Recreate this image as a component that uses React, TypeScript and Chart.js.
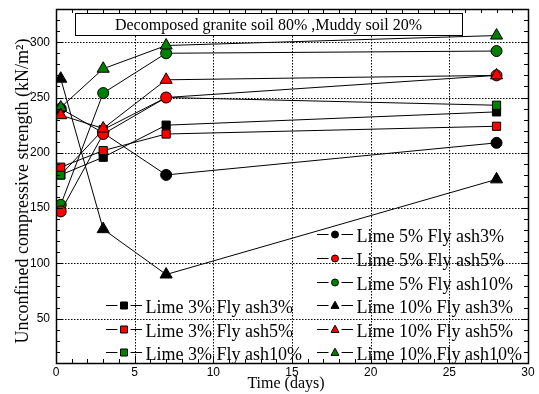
import React, { useEffect, useRef } from "react";
import { Chart, registerables } from "chart.js";

Chart.register(...registerables);

// ---- data ----
const days = [0.3, 3, 7, 28];
const lime3Fly3 = [180, 196, 225, 237];
const lime3Fly5 = [187, 202, 217, 224];
const lime3Fly10 = [180, 221, 250, 243];
const lime5Fly3 = [240, 218, 180, 209];
const lime5Fly5 = [147, 217, 250, 270];
const lime5Fly10 = [153, 254, 290, 292];
const lime10Fly3 = [267, 131, 90, 176];
const lime10Fly5 = [234, 222, 266, 270];
const lime10Fly10 = [241, 276, 297, 306];

const seriesLabels = [
  "Lime 3% Fly ash3%",
  "Lime 3% Fly ash5%",
  "Lime 3% Fly ash10%",
  "Lime 5% Fly ash3%",
  "Lime 5% Fly ash5%",
  "Lime 5% Fly ash10%",
  "Lime 10% Fly ash3%",
  "Lime 10% Fly ash5%",
  "Lime 10% Fly ash10%",
];

const yTickLabels = [50, 100, 150, 200, 250, 300];
const xTickLabels = [0, 5, 10, 15, 20, 25, 30];
const titleText = "Decomposed granite soil 80% ,Muddy soil 20%";
const xTitle = "Time (days)";
const yTitle = "Unconfined compressive strength (kN/m²)";

const BLACK = "#000000";
const RED = "#ff0000";
const GREEN = "#008000";

type Shape = "rect" | "circle" | "triangle";

const seriesValues = [
  lime3Fly3, lime3Fly5, lime3Fly10,
  lime5Fly3, lime5Fly5, lime5Fly10,
  lime10Fly3, lime10Fly5, lime10Fly10,
];
const seriesShapes: Shape[] = [
  "rect", "rect", "rect",
  "circle", "circle", "circle",
  "triangle", "triangle", "triangle",
];
const seriesColors = [BLACK, RED, GREEN, BLACK, RED, GREEN, BLACK, RED, GREEN];
const seriesOrder = [9, 5, 6, 8, 3, 4, 7, 1, 2];

const SERIF = "'Liberation Serif', 'Times New Roman', serif";
const SANS = "'Liberation Sans', Arial, sans-serif";

function radiusFor(shape: Shape) {
  if (shape === "circle") return 5.5;
  if (shape === "rect") return 5.8;
  return 7;
}

function drawMarker(ctx: CanvasRenderingContext2D, shape: Shape, x: number, y: number, size: number, fill: string) {
  ctx.save();
  ctx.setLineDash([]);
  ctx.beginPath();
  if (shape === "circle") {
    ctx.arc(x, y, size / 2, 0, Math.PI * 2);
  } else if (shape === "rect") {
    ctx.rect(x - size / 2, y - size / 2, size, size);
  } else {
    const h = size * 0.9;
    ctx.moveTo(x, y - h * 0.6);
    ctx.lineTo(x + size / 2, y + h * 0.4);
    ctx.lineTo(x - size / 2, y + h * 0.4);
    ctx.closePath();
  }
  ctx.fillStyle = fill;
  ctx.fill();
  ctx.strokeStyle = "#000";
  ctx.lineWidth = 1;
  ctx.stroke();
  ctx.restore();
}

const decorPlugin = {
  id: "decor",
  beforeDatasetsDraw(chart: any) {
    const { ctx, chartArea } = chart;
    const { left, right, top, bottom } = chartArea;
    const xs = chart.scales.x;
    const ys = chart.scales.y;
    ctx.save();
    ctx.strokeStyle = "#000";
    ctx.lineWidth = 1;
    ctx.setLineDash([1.5, 1.5]);
    for (const v of yTickLabels) {
      const py = Math.round(ys.getPixelForValue(v)) + 0.5;
      ctx.beginPath();
      ctx.moveTo(left, py);
      ctx.lineTo(right, py);
      ctx.stroke();
    }
    for (const v of xTickLabels) {
      if (v === xs.min || v === xs.max) continue;
      const px = Math.round(xs.getPixelForValue(v)) + 0.5;
      ctx.beginPath();
      ctx.moveTo(px, top);
      ctx.lineTo(px, bottom);
      ctx.stroke();
    }
    ctx.restore();
  },
  afterDatasetsDraw(chart: any) {
    const { ctx, chartArea } = chart;
    const { left, right, top, bottom } = chartArea;
    const xs = chart.scales.x;
    const ys = chart.scales.y;
    ctx.save();
    ctx.setLineDash([]);
    ctx.strokeStyle = "#000";
    ctx.lineWidth = 1.5;
    ctx.strokeRect(Math.round(left) + 0.5, Math.round(top) + 0.5, Math.round(right - left), Math.round(bottom - top));
    ctx.lineWidth = 1;
    // inward tick marks on all four sides
    for (let v = ys.min; v <= ys.max; v += 10) {
      const py = Math.round(ys.getPixelForValue(v)) + 0.5;
      const len = v % 50 === 0 ? 7 : 4;
      ctx.beginPath();
      ctx.moveTo(left, py);
      ctx.lineTo(left + len, py);
      ctx.moveTo(right, py);
      ctx.lineTo(right - len, py);
      ctx.stroke();
    }
    for (let d = xs.min; d <= xs.max; d += 1) {
      const px = Math.round(xs.getPixelForValue(d)) + 0.5;
      const len = d % 5 === 0 ? 7 : 4;
      ctx.beginPath();
      ctx.moveTo(px, bottom);
      ctx.lineTo(px, bottom - len);
      ctx.moveTo(px, top);
      ctx.lineTo(px, top + len);
      ctx.stroke();
    }

    // title box
    ctx.fillStyle = "#fff";
    ctx.fillRect(75, 13, 387, 22);
    ctx.strokeRect(75.5, 13.5, 387, 22);
    ctx.fillStyle = "#000";
    ctx.font = `16px ${SERIF}`;
    ctx.textAlign = "center";
    ctx.textBaseline = "alphabetic";
    ctx.fillText(titleText, 268.5, 30);

    // legend
    const rowStep = 23.6;
    const firstRow = 234.4;
    const items: { idx: number; col: number; row: number }[] = [
      { idx: 0, col: 0, row: 3 },
      { idx: 1, col: 0, row: 4 },
      { idx: 2, col: 0, row: 5 },
      { idx: 3, col: 1, row: 0 },
      { idx: 4, col: 1, row: 1 },
      { idx: 5, col: 1, row: 2 },
      { idx: 6, col: 1, row: 3 },
      { idx: 7, col: 1, row: 4 },
      { idx: 8, col: 1, row: 5 },
    ];
    const colX = [106, 317];
    ctx.font = `18px ${SERIF}`;
    ctx.textAlign = "left";
    for (const it of items) {
      const x0 = colX[it.col];
      const cy = Math.round(firstRow + it.row * rowStep) + 0.5;
      ctx.beginPath();
      ctx.moveTo(x0, cy);
      ctx.lineTo(x0 + 11.5, cy);
      ctx.moveTo(x0 + 24.5, cy);
      ctx.lineTo(x0 + 36, cy);
      ctx.stroke();
      const shape = seriesShapes[it.idx];
      drawMarker(ctx, shape, x0 + 18, cy, shape === "triangle" ? 8 : 7, seriesColors[it.idx]);
      ctx.fillStyle = "#000";
      ctx.fillText(seriesLabels[it.idx], x0 + 39.5, cy + 7);
    }

    // axis titles
    ctx.font = `16px ${SERIF}`;
    ctx.textAlign = "center";
    ctx.fillText(xTitle, (left + right) / 2 - 6, 388);
    ctx.save();
    ctx.translate(28, (top + bottom) / 2 + 5);
    ctx.rotate(-Math.PI / 2);
    ctx.font = `18px ${SERIF}`;
    ctx.textAlign = "center";
    ctx.textBaseline = "alphabetic";
    ctx.fillText(yTitle, 0, 0);
    ctx.restore();
    ctx.restore();
  },
};

export default function App() {
  const canvasRef = useRef<HTMLCanvasElement | null>(null);

  useEffect(() => {
    const canvas = canvasRef.current;
    if (!canvas) return;
    const datasets = seriesLabels.map((label, i) => {
      const shape = seriesShapes[i];
      return {
        label,
        data: days.map((d, j) => ({ x: d, y: seriesValues[i][j] })),
        borderColor: "#000",
        borderWidth: 1,
        backgroundColor: seriesColors[i],
        pointStyle: shape,
        pointRadius: radiusFor(shape),
        pointHoverRadius: radiusFor(shape),
        pointBackgroundColor: seriesColors[i],
        pointBorderColor: "#000",
        pointBorderWidth: 1,
        tension: 0,
        fill: false,
        order: seriesOrder[i],
      };
    });

    const chart = new Chart(canvas, {
      type: "line",
      data: { datasets },
      options: {
        animation: false,
        responsive: true,
        maintainAspectRatio: false,
        events: [],
        layout: { padding: { left: 0, top: 9, right: 11, bottom: 0 } },
        plugins: {
          legend: { display: false },
          tooltip: { enabled: false },
          title: { display: false },
        },
        scales: {
          x: {
            type: "linear",
            position: "bottom",
            min: 0,
            max: 30,
            afterBuildTicks: (s: any) => {
              s.ticks = xTickLabels.map((v) => ({ value: v }));
            },
            afterFit: (s: any) => {
              s.height = 31;
              s.paddingLeft = 0;
              s.paddingRight = 0;
            },
            grid: { display: false, drawTicks: false },
            border: { display: false },
            ticks: {
              color: "#000",
              font: { family: SANS, size: 12 },
              padding: 2,
              maxRotation: 0,
              autoSkip: false,
            },
          },
          y: {
            type: "linear",
            position: "left",
            min: 10,
            max: 330,
            afterBuildTicks: (s: any) => {
              s.ticks = yTickLabels.map((v) => ({ value: v }));
            },
            afterFit: (s: any) => {
              s.width = 56;
              s.paddingTop = 0;
              s.paddingBottom = 0;
            },
            grid: { display: false, drawTicks: false },
            border: { display: false },
            ticks: {
              color: "#000",
              font: { family: SANS, size: 12 },
              padding: 6,
              autoSkip: false,
            },
          },
        },
      },
      plugins: [decorPlugin],
    } as any);

    return () => {
      chart.destroy();
    };
  }, []);

  return (
    <div style={{ position: "absolute", left: 0, top: 0, width: 539, height: 394, background: "#fff" }}>
      <canvas ref={canvasRef} />
    </div>
  );
}
